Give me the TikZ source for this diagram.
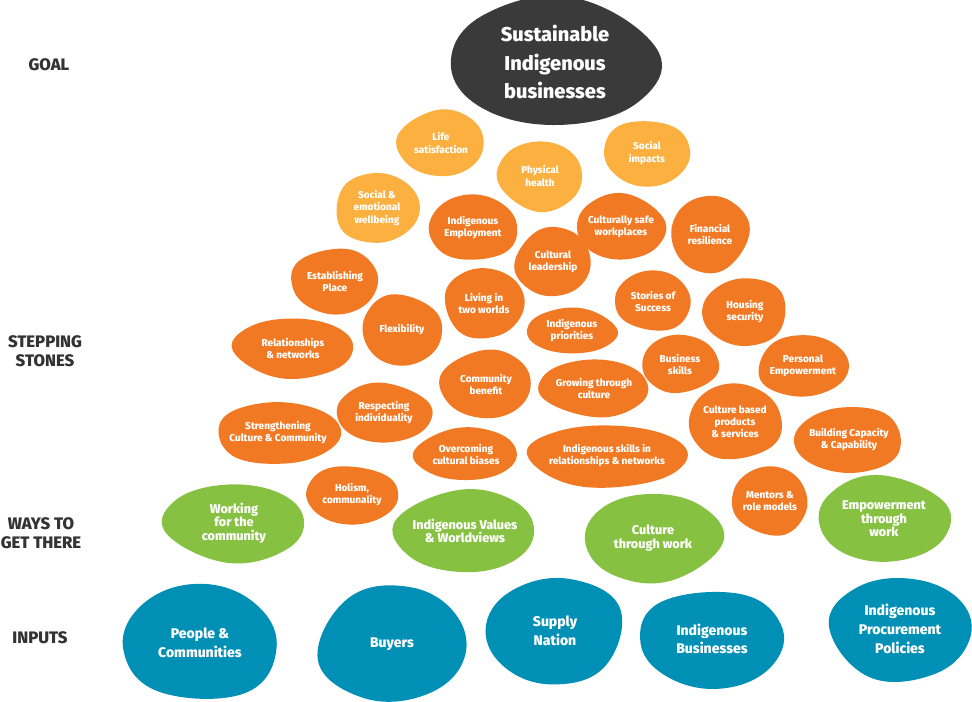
\documentclass[tikz,border=0pt]{standalone}
\usepackage{fontspec}
\setmainfont{Fira Sans}[BoldFont={Fira Sans ExtraBold}]
\definecolor{goalgray}{RGB}{58,58,58}
\definecolor{wellorange}{RGB}{251,176,64}
\definecolor{stoneorange}{RGB}{242,121,35}
\definecolor{waygreen}{RGB}{134,193,65}
\definecolor{inputblue}{RGB}{0,143,181}
\definecolor{labelgray}{RGB}{51,51,51}
\tikzset{every node/.style={align=center,inner sep=0pt},
 goal blob/.style={fill=goalgray},goal text/.style={text=white,font=\fontsize{15}{21.5}\selectfont\bfseries},
 well blob/.style={fill=wellorange},well text/.style={text=white,font=\fontsize{7.5}{9.5}\selectfont\bfseries},
 stone blob/.style={fill=stoneorange},stone text/.style={text=white,font=\fontsize{7.5}{9}\selectfont\bfseries},
 way blob/.style={fill=waygreen},way text/.style={text=white,font=\fontsize{9.5}{10}\selectfont\bfseries},
 input blob/.style={fill=inputblue},input text/.style={text=white,font=\fontsize{10.5}{14}\selectfont\bfseries},
 row label/.style={text=labelgray,font=\fontsize{12.5}{14}\selectfont\bfseries}}
% pebble: name, kind, centre, half width, half height, turn, text
\newcommand{\stone}[7]{\fill[#2 blob,shift={#3},xscale=#4,yscale=#5,rotate=#6] plot[smooth cycle,tension=.7] coordinates{(1,.05) (.62,.82) (-.18,1) (-.86,.55) (-.97,-.25) (-.45,-.92) (.45,-.95)};\node[#2 text] (#1) at #3 {#7};}

\begin{document}
\begin{tikzpicture}[x=.75pt,y=-.75pt]
\useasboundingbox (0,0) rectangle (972,701);
% goal
\stone{sustain}{goal}{(555,62)}{104}{62}{15}{Sustainable\\Indigenous\\businesses}
% wellbeing outcomes
\stone{life}{well}{(441,143)}{42}{33}{100}{Life\\satisfaction}
\stone{physical}{well}{(540,176)}{42}{34}{200}{Physical\\health}
\stone{social}{well}{(647,153)}{42}{33}{60}{Social\\impacts}
\stone{wellbeing}{well}{(377,208)}{42}{34}{150}{Social \&\\emotional\\wellbeing}
% stepping stones
\stone{employ}{stone}{(473,228)}{43}{33}{250}{Indigenous\\Employment}
\stone{safe}{stone}{(621,227)}{44}{32}{20}{Culturally safe\\workplaces}
\stone{finance}{stone}{(710,234)}{38}{38}{300}{Financial\\resilience}
\stone{leader}{stone}{(553,262)}{37}{34}{120}{Cultural\\leadership}
\stone{place}{stone}{(335,281)}{42}{33}{80}{Establishing\\Place}
\stone{twoworlds}{stone}{(484,303)}{40}{34}{170}{Living in\\two worlds}
\stone{stories}{stone}{(653,301)}{37}{30}{230}{Stories of\\Success}
\stone{housing}{stone}{(745,312)}{42}{33}{330}{Housing\\security}
\stone{flex}{stone}{(402,330)}{39}{35}{40}{Flexibility}
\stone{relations}{stone}{(293,348)}{60}{29}{190}{Relationships\\\& networks}
\stone{priority}{stone}{(572,331)}{45}{22}{10}{Indigenous\\priorities}
\stone{skills}{stone}{(680,364)}{37}{29}{270}{Business\\skills}
\stone{personal}{stone}{(803,366)}{45}{30}{140}{Personal\\Empowerment}
\stone{benefit}{stone}{(486,384)}{44}{34}{95}{Community\\benefit}
\stone{growing}{stone}{(594,388)}{54}{28}{210}{Growing through\\culture}
\stone{respect}{stone}{(384,413)}{47}{29}{30}{Respecting\\individuality}
\stone{products}{stone}{(735,422)}{45}{38}{260}{Culture based\\products\\\& services}
\stone{strength}{stone}{(278,433)}{62}{30}{160}{Strengthening\\Culture \& Community}
\stone{capacity}{stone}{(849,440)}{54}{32}{340}{Building Capacity\\\& Capability}
\stone{biases}{stone}{(466,454)}{50}{26}{110}{Overcoming\\cultural biases}
\stone{skillsnet}{stone}{(607,456)}{80}{30}{180}{Indigenous skills in\\relationships \& networks}
\stone{holism}{stone}{(352,495)}{45}{29}{50}{Holism,\\communality}
\stone{mentors}{stone}{(770,501)}{37}{34}{220}{Mentors \&\\role models}
% ways to get there
\stone{working}{way}{(234,523)}{70}{38}{200}{Working\\for the\\community}
\stone{values}{way}{(465,531)}{68}{41}{100}{Indigenous Values\\\& Worldviews}
\stone{culturework}{way}{(653,538)}{67}{44}{290}{Culture\\through work}
\stone{empower}{way}{(884,519)}{65}{42}{30}{Empowerment\\through\\work}
% inputs
\stone{people}{input}{(200,643)}{75}{58}{240}{People \&\\Communities}
\stone{buyers}{input}{(392,644)}{73}{57}{130}{Buyers}
\stone{supply}{input}{(555,631)}{68}{52}{320}{Supply\\Nation}
\stone{business}{input}{(712,639)}{70}{49}{70}{Indigenous\\Businesses}
\stone{procure}{input}{(900,629)}{71}{50}{180}{Indigenous\\Procurement\\Policies}
% row labels
\node[row label] (goal) at (49,65) {GOAL};
\node[row label] (stepping) at (45,351) {STEPPING\\STONES};
\node[row label] (ways) at (41,533) {WAYS TO\\GET THERE};
\node[row label] (inputs) at (40,638) {INPUTS};
\end{tikzpicture}
\end{document}
